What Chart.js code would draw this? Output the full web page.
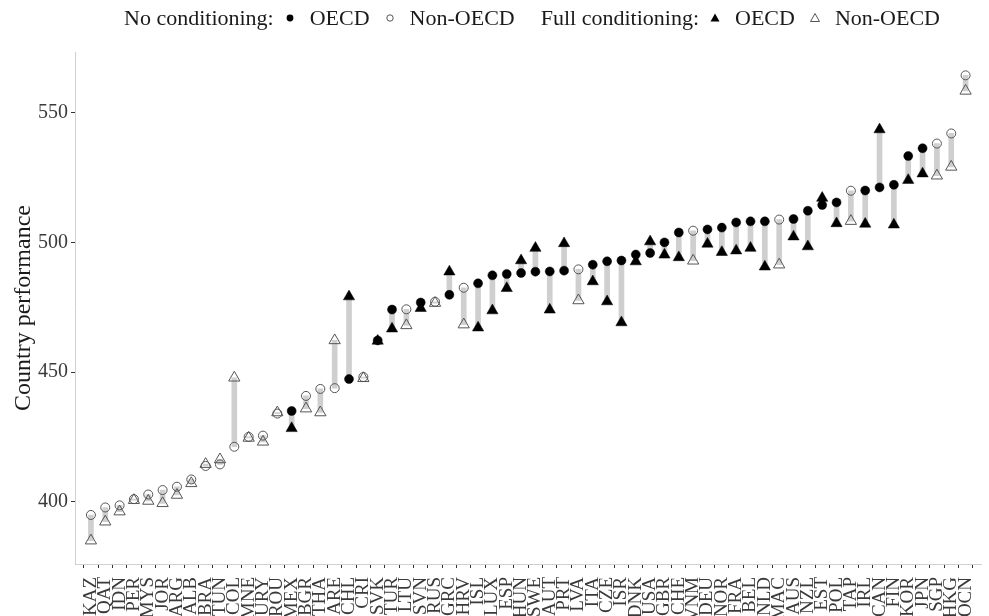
<!DOCTYPE html>
<html>
<head>
<meta charset="utf-8">
<script src="https://cdn.jsdelivr.net/npm/chart.js@4.4.1/dist/chart.umd.min.js"></script>
<style>
  body { margin: 0; background: #fff; }
  #wrap { position: relative; width: 989px; height: 616px; }
  #legend {
    position: absolute; left: 124px; top: 5px; height: 26px;
    display: flex; align-items: center; white-space: nowrap;
    font-family: "Liberation Serif", "Times New Roman", serif; font-size: 22px; color: #1a1a1a;
  }
  #legend svg { display: block; }
  .key { width: 12px; display: flex; justify-content: center; margin: 0 14px 0 14px; }
  .key.first { margin-left: 10px; }
  .gap { width: 26px; }
</style>
</head>
<body>
<div id="wrap">
  <canvas id="perfChart" width="989" height="616"></canvas>
  <div id="legend">
    <span>No conditioning:</span>
    <span class="key first"><svg width="10" height="10"><circle cx="5" cy="5" r="3.4" fill="#000"/></svg></span>
    <span>OECD</span>
    <span class="key"><svg width="10" height="10"><circle cx="5" cy="5" r="3.2" fill="none" stroke="#555" stroke-width="1"/></svg></span>
    <span>Non-OECD</span>
    <span class="gap"></span>
    <span>Full conditioning:</span>
    <span class="key first"><svg width="12" height="12"><polygon points="6,1.5 10.5,9.5 1.5,9.5" fill="#000"/></svg></span>
    <span>OECD</span>
    <span class="key"><svg width="12" height="12"><polygon points="6,1.5 10.5,9.5 1.5,9.5" fill="none" stroke="#555" stroke-width="1"/></svg></span>
    <span>Non-OECD</span>
  </div>
</div>
<script>
const countries = ["KAZ", "QAT", "IDN", "PER", "MYS", "JOR", "ARG", "ALB", "BRA", "TUN",
  "COL", "MNE", "URY", "ROU", "MEX", "BGR", "THA", "ARE", "CHL", "CRI",
  "SVK", "TUR", "LTU", "SVN", "RUS", "GRC", "HRV", "ISL", "LUX", "ESP",
  "HUN", "SWE", "AUT", "PRT", "LVA", "ITA", "CZE", "ISR", "DNK", "USA",
  "GBR", "CHE", "VNM", "DEU", "NOR", "FRA", "BEL", "NLD", "MAC", "AUS",
  "NZL", "EST", "POL", "TAP", "IRL", "CAN", "FIN", "KOR", "JPN", "SGP",
  "HKG", "OCN"];

// 1 = OECD member, 0 = non-OECD
const isOecd = [0, 0, 0, 0, 0, 0, 0, 0, 0, 0,
  0, 0, 0, 0, 1, 0, 0, 0, 1, 0,
  1, 1, 0, 1, 0, 1, 0, 1, 1, 1,
  1, 1, 1, 1, 0, 1, 1, 1, 1, 1,
  1, 1, 0, 1, 1, 1, 1, 1, 0, 1,
  1, 1, 1, 0, 1, 1, 1, 1, 1, 0,
  0, 0];

// no conditioning (circles)
const noCond = [394.9, 397.8, 398.6, 401.0, 402.8, 404.5, 405.8, 408.6, 413.8, 414.4,
  421.2, 425.0, 425.5, 434.0, 435.0, 440.8, 443.5, 443.8, 447.3, 448.1,
  462.2, 474.1, 474.2, 476.8, 477.1, 479.8, 482.5, 484.2, 487.3, 487.8,
  488.2, 488.7, 488.8, 489.1, 489.6, 491.4, 492.7, 493.0, 495.3, 495.9,
  500.0, 503.8, 504.5, 505.0, 505.7, 507.7, 508.1, 508.1, 508.8, 509.0,
  512.2, 514.4, 515.4, 519.9, 520.0, 521.2, 522.2, 533.3, 536.3, 538.1,
  542.0, 564.4];

// full conditioning (triangles)
const fullCond = [385.0, 392.3, 396.2, 400.6, 400.3, 399.4, 402.6, 407.1, 414.5, 416.3,
  447.8, 424.6, 423.1, 434.4, 428.3, 435.9, 434.4, 462.2, 479.1, 447.6,
  462.0, 466.7, 468.0, 474.6, 476.6, 488.7, 468.3, 467.1, 473.7, 482.3,
  493.0, 497.8, 474.0, 499.6, 477.6, 484.9, 477.2, 469.1, 492.6, 500.3,
  495.2, 494.2, 492.9, 499.4, 496.2, 496.8, 497.8, 490.6, 491.4, 502.2,
  498.4, 517.1, 507.3, 508.2, 507.1, 543.5, 506.8, 524.0, 526.5, 525.7,
  529.1, 558.4];

const yTicks = [400, 450, 500, 550];

function pick(values, member) {
  const out = [];
  values.forEach((v, i) => {
    if (isOecd[i] === member) out.push({ x: i, y: v });
  });
  return out;
}

const serif = "'Liberation Serif', 'Times New Roman', serif";
const ctx = document.getElementById("perfChart").getContext("2d");

new Chart(ctx, {
  type: "scatter",
  data: {
    datasets: [
      {
        type: "bar",
        data: countries.map((c, i) => ({ x: i, y: [noCond[i], fullCond[i]] })),
        backgroundColor: "#cfcfcf",
        borderWidth: 0,
        barThickness: 5,
        order: 5,
      },
      {
        data: pick(noCond, 1),
        pointStyle: "circle",
        pointRadius: 4.5,
        backgroundColor: "#000",
        borderColor: "#000",
        borderWidth: 0.5,
        order: 3,
      },
      {
        data: pick(noCond, 0),
        pointStyle: "circle",
        pointRadius: 4.5,
        backgroundColor: "rgba(255,255,255,0)",
        borderColor: "#555",
        borderWidth: 1,
        order: 3,
      },
      {
        data: pick(fullCond, 1),
        pointStyle: "triangle",
        pointRadius: 6.5,
        backgroundColor: "#000",
        borderColor: "#000",
        borderWidth: 0.5,
        order: 1,
      },
      {
        data: pick(fullCond, 0),
        pointStyle: "triangle",
        pointRadius: 6.5,
        backgroundColor: "rgba(255,255,255,0)",
        borderColor: "#555",
        borderWidth: 1,
        order: 1,
      },
    ],
  },
  options: {
    responsive: false,
    animation: false,
    layout: { padding: { top: 52, right: 5, left: 0, bottom: 0 } },
    plugins: { legend: { display: false }, tooltip: { enabled: false } },
    scales: {
      x: {
        type: "linear",
        min: -0.6,
        max: countries.length - 1 + 0.6,
        afterBuildTicks: (scale) => {
          scale.ticks = countries.map((c, i) => ({ value: i }));
        },
        afterFit: (scale) => {
          scale.height = 52;
          scale.paddingLeft = 0;
          scale.paddingRight = 0;
        },
        grid: { drawOnChartArea: false, color: "#333", tickLength: 4 },
        border: { color: "#d0d0d0" },
        ticks: {
          autoSkip: false,
          minRotation: 90,
          maxRotation: 90,
          padding: 9,
          color: "#3a3a3a",
          font: { family: serif, size: 19 },
          callback: (v) => countries[v],
        },
      },
      y: {
        min: 376,
        max: 573.4,
        afterBuildTicks: (scale) => {
          scale.ticks = yTicks.map((v) => ({ value: v }));
        },
        afterFit: (scale) => {
          scale.width = 75;
          scale.paddingTop = 0;
          scale.paddingBottom = 0;
        },
        grid: { drawOnChartArea: false, color: "#333", tickLength: 4 },
        border: { color: "#d0d0d0" },
        ticks: {
          padding: 3,
          color: "#3a3a3a",
          font: { family: serif, size: 20 },
        },
        title: {
          display: true,
          text: "Country performance",
          color: "#1a1a1a",
          font: { family: serif, size: 24 },
          padding: { top: 9, bottom: 0 },
        },
      },
    },
  },
});
</script>
</body>
</html>
